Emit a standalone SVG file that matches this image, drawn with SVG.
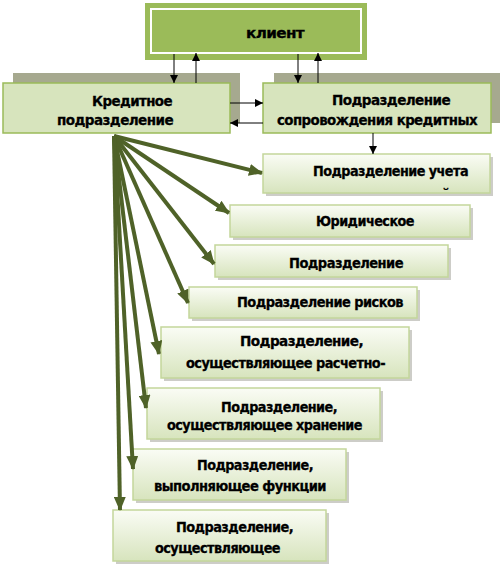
<svg xmlns="http://www.w3.org/2000/svg" width="503" height="566" viewBox="0 0 503 566">
<style>
.t{font-family:"DejaVu Sans","Liberation Sans",sans-serif;font-weight:bold;font-size:14px;fill:#000;stroke:#000;stroke-width:0.3;letter-spacing:-0.6px}
.sub{fill:url(#g);stroke:#C3D69B;stroke-width:1.5}
.shd{fill:#B8B8B0;opacity:0.7}
.top{fill:#D7E4BD;stroke:#9BBB59;stroke-width:1.5}
.tsh{fill:#A6A98F}
.fan{stroke:#4F6228;stroke-width:4;fill:none;marker-end:url(#ga)}
.blk{stroke:#000;stroke-width:1;fill:none;marker-end:url(#ba)}
</style>
<defs>
<linearGradient id="g" x1="0" y1="0" x2="0" y2="1">
<stop offset="0" stop-color="#FAFCF5"/>
<stop offset="1" stop-color="#D7E4BD"/>
</linearGradient>
<marker id="ga" markerUnits="userSpaceOnUse" markerWidth="14" markerHeight="12" refX="13" refY="6" orient="auto">
<path d="M0,0 L14,6 L0,12 Z" fill="#4F6228"/>
</marker>
<marker id="ba" markerUnits="userSpaceOnUse" markerWidth="8" markerHeight="8" refX="8" refY="4" orient="auto">
<path d="M0,0 L8,4 L0,8 Z" fill="#000"/>
</marker>
<clipPath id="c1"><rect x="263" y="154" width="227" height="36"/></clipPath>
</defs>

<g id="client">
<rect x="145" y="3" width="222" height="57" fill="#9BBB59"/>
<rect x="151" y="9" width="210" height="44" fill="#9BBB59" stroke="#fff" stroke-width="2"/>
<text class="t" x="246" y="38" textLength="58" lengthAdjust="spacingAndGlyphs">клиент</text>
</g>

<g id="credit">
<rect class="tsh" x="13" y="73" width="227" height="50"/>
<rect class="top" x="3" y="83" width="227" height="50"/>
<text class="t" x="92" y="106" textLength="80" lengthAdjust="spacingAndGlyphs">Кредитное</text>
<text class="t" x="57" y="125" textLength="116" lengthAdjust="spacingAndGlyphs">подразделение</text>
</g>

<g id="support">
<rect class="tsh" x="274" y="73" width="226" height="50"/>
<rect class="top" x="263" y="83" width="228" height="50"/>
<text class="t" x="332" y="105" textLength="118" lengthAdjust="spacingAndGlyphs">Подразделение</text>
<text class="t" x="277" y="125" textLength="200" lengthAdjust="spacingAndGlyphs">сопровождения кредитных</text>
</g>

<g id="n1">
<rect class="shd" x="266" y="157" width="227" height="39"/>
<rect class="sub" x="263" y="154" width="227" height="39"/>
<text class="t" x="313" y="176" textLength="155" lengthAdjust="spacingAndGlyphs">Подразделение учета</text>
<text class="t" x="441" y="199" clip-path="url(#c1)">й</text>
</g>

<g id="n2">
<rect class="shd" x="233" y="208" width="240" height="32"/>
<rect class="sub" x="230" y="205" width="240" height="32"/>
<text class="t" x="316" y="226" textLength="98" lengthAdjust="spacingAndGlyphs">Юридическое</text>
</g>

<g id="n3">
<rect class="shd" x="218" y="248" width="233" height="32"/>
<rect class="sub" x="215" y="245" width="233" height="32"/>
<text class="t" x="289" y="268" textLength="114" lengthAdjust="spacingAndGlyphs">Подразделение</text>
</g>

<g id="n4">
<rect class="shd" x="192" y="290" width="228" height="31"/>
<rect class="sub" x="189" y="287" width="228" height="31"/>
<text class="t" x="237" y="307" textLength="166" lengthAdjust="spacingAndGlyphs">Подразделение рисков</text>
</g>

<g id="n5">
<rect class="shd" x="164" y="330" width="248" height="51"/>
<rect class="sub" x="161" y="327" width="248" height="51"/>
<text class="t" x="240" y="346" textLength="123" lengthAdjust="spacingAndGlyphs">Подразделение,</text>
<text class="t" x="186" y="368" textLength="199" lengthAdjust="spacingAndGlyphs">осуществляющее расчетно-</text>
</g>

<g id="n6">
<rect class="shd" x="150" y="391" width="233" height="51"/>
<rect class="sub" x="147" y="388" width="233" height="51"/>
<text class="t" x="221" y="412" textLength="116" lengthAdjust="spacingAndGlyphs">Подразделение,</text>
<text class="t" x="167" y="430" textLength="195" lengthAdjust="spacingAndGlyphs">осуществляющее хранение</text>
</g>

<g id="n7">
<rect class="shd" x="136" y="452" width="213" height="51"/>
<rect class="sub" x="133" y="449" width="213" height="51"/>
<text class="t" x="197" y="470" textLength="116" lengthAdjust="spacingAndGlyphs">Подразделение,</text>
<text class="t" x="154" y="491" textLength="172" lengthAdjust="spacingAndGlyphs">выполняющее функции</text>
</g>

<g id="n8">
<rect class="shd" x="116" y="513" width="213" height="51"/>
<rect class="sub" x="113" y="510" width="213" height="51"/>
<text class="t" x="176" y="532" textLength="117" lengthAdjust="spacingAndGlyphs">Подразделение,</text>
<text class="t" x="155" y="553" textLength="125" lengthAdjust="spacingAndGlyphs">осуществляющее</text>
</g>

<g id="connectors">
<line class="blk" x1="174" y1="54" x2="174" y2="83"/>
<line class="blk" x1="196" y1="83" x2="196" y2="53"/>
<line class="blk" x1="298" y1="54" x2="298" y2="83"/>
<line class="blk" x1="318" y1="83" x2="318" y2="53"/>
<line class="blk" x1="230" y1="103" x2="263" y2="103"/>
<line class="blk" x1="263" y1="123" x2="230" y2="123"/>
<line class="blk" x1="373" y1="133" x2="373" y2="154"/>
<line class="fan" x1="114" y1="136" x2="262" y2="173"/>
<line class="fan" x1="114" y1="136" x2="229" y2="213"/>
<line class="fan" x1="114" y1="136" x2="214" y2="264"/>
<line class="fan" x1="114" y1="136" x2="188" y2="303"/>
<line class="fan" x1="114" y1="136" x2="159" y2="354"/>
<line class="fan" x1="114" y1="136" x2="146" y2="408"/>
<line class="fan" x1="114" y1="136" x2="133" y2="469"/>
<line class="fan" x1="114" y1="136" x2="120" y2="510"/>
</g>
</svg>
